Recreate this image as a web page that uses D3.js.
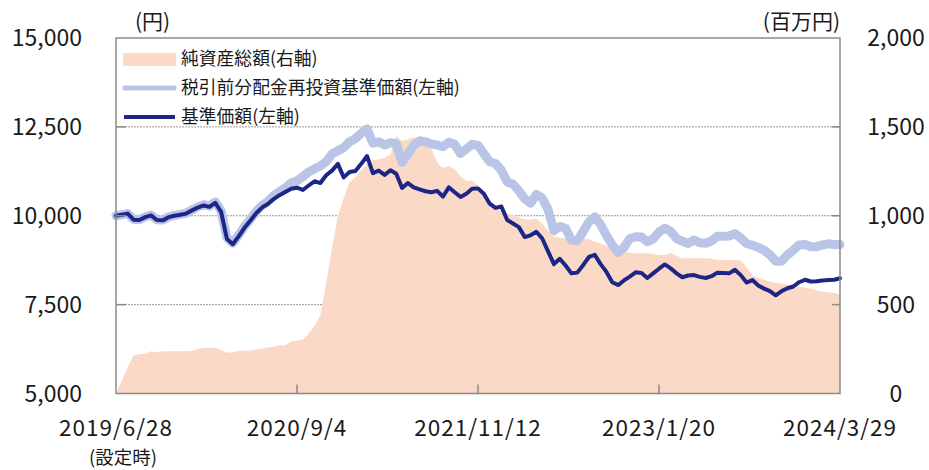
<!DOCTYPE html>
<html><head><meta charset="utf-8">
<script src="https://cdn.jsdelivr.net/npm/d3@7/dist/d3.min.js"></script>
<style>
html,body{margin:0;padding:0;background:#fff;}
svg text{font-family:"Noto Sans CJK JP","Noto Sans",sans-serif;fill:#1a1a1a;}
</style></head><body>
<svg id="chart" width="929" height="470"></svg>
<script>
// ---- data (one sample every 14 days from 2019/6/28) ----
const startDate = "2019-06-28";
const stepDays = 14;
const navBase = [10000,10030,10060,9890,9880,9960,10010,9880,9870,9960,10000,10030,10060,10150,10230,10290,10250,10360,10110,9350,9200,9420,9660,9860,10070,10230,10330,10470,10580,10670,10760,10790,10725,10850,10970,10920,11140,11270,11460,11080,11230,11260,11460,11680,11200,11270,11150,11280,11180,10780,10920,10800,10740,10690,10660,10700,10540,10800,10660,10530,10620,10760,10770,10620,10340,10220,10260,9880,9780,9680,9400,9450,9550,9360,9000,8640,8790,8600,8380,8400,8610,8840,8900,8640,8420,8130,8050,8180,8290,8410,8390,8250,8380,8510,8630,8520,8380,8270,8320,8330,8280,8250,8300,8400,8390,8380,8480,8330,8120,8190,8040,7950,7880,7760,7880,7960,8010,8130,8200,8150,8160,8180,8190,8200,8240];
const navReinvest = [10000,10030,10060,9900,9890,9970,10020,9890,9880,9970,10010,10040,10070,10160,10250,10310,10270,10390,10140,9380,9230,9450,9700,9900,10120,10290,10400,10560,10680,10790,10920,10980,11100,11230,11320,11400,11520,11740,11830,11920,12080,12170,12320,12440,12040,12080,11990,12060,12020,11500,11750,11980,12110,12080,12020,11990,11940,12070,12010,11750,11880,12010,11980,11750,11520,11470,11280,10950,10890,10700,10480,10350,10600,10500,10180,9580,9700,9650,9320,9300,9550,9830,9970,9750,9450,9180,8970,9110,9360,9410,9400,9270,9350,9540,9650,9560,9360,9280,9220,9320,9240,9225,9290,9420,9420,9430,9500,9370,9220,9170,9110,9030,8900,8720,8720,8900,9030,9180,9190,9130,9130,9180,9210,9190,9190];
const netAssets = [5,70,150,212,222,222,238,230,238,238,238,238,238,240,250,258,258,258,245,230,230,240,240,242,249,252,260,262,272,272,292,298,305,335,380,440,620,820,1000,1100,1190,1215,1255,1290,1314,1316,1326,1345,1450,1420,1430,1442,1425,1440,1380,1300,1270,1280,1262,1222,1195,1198,1170,1120,1090,1045,1025,1014,1004,990,980,978,985,955,915,885,875,874,870,858,870,870,852,845,830,815,805,800,792,789,789,789,785,779,779,790,775,761,761,761,761,761,758,751,751,751,751,748,710,665,650,638,630,623,618,612,607,602,596,590,580,573,570,566,555];
const xTickLabels = ["2019/6/28","2020/9/4","2021/11/12","2023/1/20","2024/3/29"];
const leftTicks = [5000,7500,10000,12500,15000];
const rightTicks = [0,500,1000,1500,2000];
const legendLabels = ["純資産総額(右軸)","税引前分配金再投資基準価額(左軸)","基準価額(左軸)"];

// ---- layout ----
const L = 116, R = 840, T = 38, B = 393.5;
const colArea = "#fad9c7", colLight = "#b9c4e6", colNavy = "#1d2589", colFrame = "#8a8a8a";

const parse = d3.timeParse("%Y-%m-%d");
const parseTick = d3.timeParse("%Y/%m/%d");
const t0 = parse(startDate);
const dates = navBase.map((_, i) => d3.timeDay.offset(t0, i * stepDays));
const data = dates.map((d, i) => ({d, a: navBase[i], b: navReinvest[i], n: netAssets[i]}));

const x = d3.scaleTime().domain([t0, parseTick(xTickLabels[4])]).range([L, R]);
const yL = d3.scaleLinear().domain([5000, 15000]).range([B, T]);
const yR = d3.scaleLinear().domain([0, 2000]).range([B, T]);

const svg = d3.select("#chart");

// gridlines
svg.append("g").selectAll("line").data(leftTicks.slice(1, 4)).join("line")
  .attr("x1", L).attr("x2", R).attr("y1", d => yL(d)).attr("y2", d => yL(d))
  .attr("stroke", "#9a9a9a").attr("stroke-width", 1).attr("stroke-dasharray", "2,1");

// area
svg.append("path").datum(data)
  .attr("d", d3.area().curve(d3.curveLinear).x(d => x(d.d)).y0(yR(0)).y1(d => yR(d.n)))
  .attr("fill", colArea);

// lines
svg.append("path").datum(data)
  .attr("d", d3.line().x(d => x(d.d)).y(d => yL(d.b)))
  .attr("fill", "none").attr("stroke", colLight).attr("stroke-width", 9)
  .attr("stroke-linejoin", "round").attr("stroke-linecap", "round");
svg.append("path").datum(data)
  .attr("d", d3.line().x(d => x(d.d)).y(d => yL(d.a)))
  .attr("fill", "none").attr("stroke", colNavy).attr("stroke-width", 4)
  .attr("stroke-linejoin", "round").attr("stroke-linecap", "round");

// frame
svg.append("rect").attr("x", L).attr("y", T).attr("width", R - L).attr("height", B - T)
  .attr("fill", "none").attr("stroke", colFrame).attr("stroke-width", 1.5);

// inner ticks
svg.append("g").selectAll("line").data(leftTicks.slice(1, 4)).join("line")
  .attr("x1", L).attr("x2", L + 10).attr("y1", d => yL(d)).attr("y2", d => yL(d))
  .attr("stroke", colFrame).attr("stroke-width", 1.5);
svg.append("g").selectAll("line").data(rightTicks.slice(1, 4)).join("line")
  .attr("x1", R - 8).attr("x2", R).attr("y1", d => yR(d)).attr("y2", d => yR(d))
  .attr("stroke", colFrame).attr("stroke-width", 1.5);
svg.append("g").selectAll("line").data(xTickLabels.slice(1, 4)).join("line")
  .attr("x1", d => x(parseTick(d))).attr("x2", d => x(parseTick(d)))
  .attr("y1", B).attr("y2", B - 9)
  .attr("stroke", colFrame).attr("stroke-width", 1.5);

// tick labels
const fmt = d3.format(",");
svg.append("g").selectAll("text").data(leftTicks).join("text")
  .attr("x", 82).attr("y", d => yL(d)).attr("dy", "0.36em")
  .attr("text-anchor", "end").attr("font-size", 23).text(d => fmt(d));
svg.append("g").selectAll("text").data(rightTicks).join("text")
  .attr("x", 896).attr("y", d => yR(d)).attr("dy", "0.36em")
  .attr("text-anchor", "middle").attr("font-size", 23).text(d => fmt(d));
svg.append("g").selectAll("text").data(xTickLabels).join("text")
  .attr("x", d => x(parseTick(d))).attr("y", 435.5)
  .attr("text-anchor", "middle").attr("font-size", 22.5).attr("letter-spacing", 1).text(d => d);
svg.append("text").attr("x", 123).attr("y", 464).attr("text-anchor", "middle")
  .attr("font-size", 18.5).text("(設定時)");

// units
svg.append("text").attr("x", 135).attr("y", 29).attr("font-size", 21).text("(円)");
svg.append("text").attr("x", 840).attr("y", 29).attr("text-anchor", "end").attr("font-size", 21).text("(百万円)");

// legend
const lg = svg.append("g");
const rowY = [59, 88, 117];
lg.append("rect").attr("x", 123).attr("y", 53).attr("width", 53).attr("height", 13).attr("fill", colArea);
lg.append("line").attr("x1", 125).attr("x2", 174).attr("y1", rowY[1]).attr("y2", rowY[1])
  .attr("stroke", colLight).attr("stroke-width", 5).attr("stroke-linecap", "round");
lg.append("line").attr("x1", 124).attr("x2", 175).attr("y1", rowY[2]).attr("y2", rowY[2])
  .attr("stroke", colNavy).attr("stroke-width", 4);
lg.selectAll("text").data(legendLabels).join("text")
  .attr("x", 181).attr("y", (d, i) => rowY[i]).attr("dy", "0.36em")
  .attr("font-size", 17.8).text(d => d);
</script>
</body></html>
